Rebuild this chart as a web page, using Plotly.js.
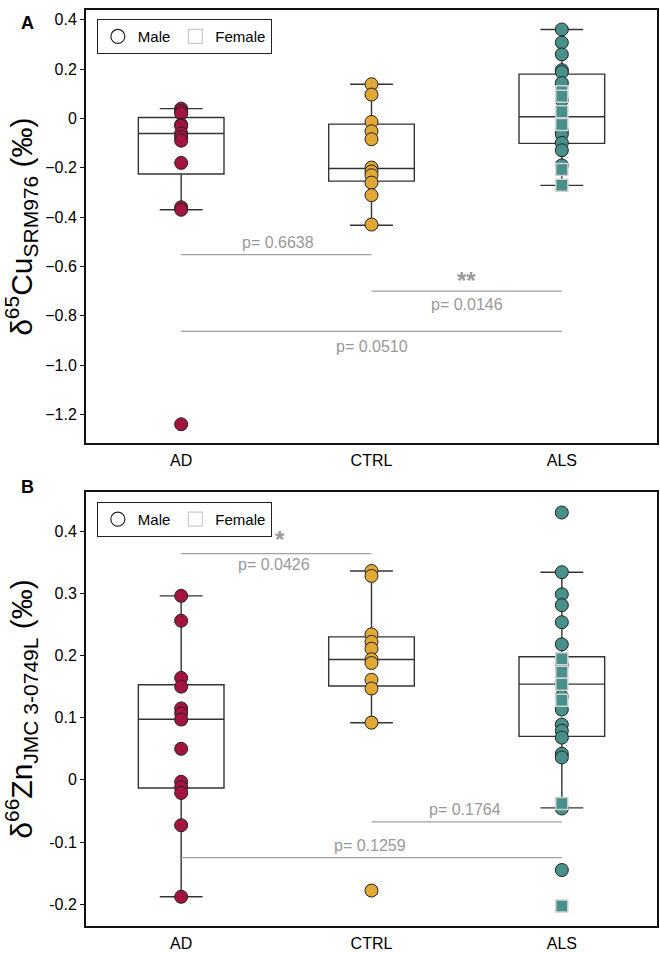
<!DOCTYPE html>
<html><head><meta charset="utf-8">
<script src="https://cdn.plot.ly/plotly-3.0.1.min.js"></script>
<style>html,body{margin:0;padding:0;background:#fff}#chart{width:660px;height:953px}</style>
</head><body><div id="chart"></div>
<script>
const categories = ["AD", "CTRL", "ALS"];

// Panel A: delta65Cu (permil)
const cuAD = [0.04, 0.03, 0.02, -0.025, -0.03, -0.06, -0.075, -0.09, -0.18, -0.36, -0.37, -1.24];
const cuCTRL = [0.139, 0.097, -0.014, -0.052, -0.084, -0.199, -0.215, -0.23, -0.26, -0.311, -0.43];
const cuALSMale = [0.361, 0.308, 0.26, 0.196, 0.188, 0.144, 0.075, -0.05, -0.064, -0.099, -0.129, -0.19];
const cuALSFemale = [0.108, 0.09, 0.027, -0.024, -0.207, -0.271];
const cuQ1 = [-0.225, -0.254, -0.101];
const cuMedian = [-0.061, -0.203, 0.007];
const cuQ3 = [0.004, -0.023, 0.18];
const cuLower = [-0.37, -0.433, -0.271];
const cuUpper = [0.04, 0.139, 0.361];
const cuTickVals = [0.4, 0.2, 0, -0.2, -0.4, -0.6, -0.8, -1.0, -1.2];
const cuTickText = ["0.4", "0.2", "0", "\u22120.2", "\u22120.4", "\u22120.6", "\u22120.8", "\u22121.0", "\u22121.2"];
const cuPairs = [["AD", "CTRL"], ["CTRL", "ALS"], ["AD", "ALS"]];
const cuLineY = [-0.552, -0.70, -0.863];
const cuLabels = ["p= 0.6638", "p= 0.0146", "p= 0.0510"];
const cuLabelX = [0.51, 1.5, 1.0];
const cuLabelY = [-0.502, -0.756, -0.924];
const cuStars = ["", "**", ""];
const cuStarX = [0, 1.5, 0];
const cuStarY = [0, -0.655, 0];

// Panel B: delta66Zn (permil)
const znAD = [0.296, 0.256, 0.164, 0.150, 0.115, 0.107, 0.097, 0.050, -0.003, -0.012, -0.021, -0.073, -0.188];
const znCTRL = [0.336, 0.328, 0.234, 0.222, 0.211, 0.194, 0.188, 0.161, 0.147, 0.092, -0.178];
const znALSMale = [0.43, 0.334, 0.2985, 0.281, 0.2535, 0.218, 0.185, 0.134, 0.113, 0.089, 0.079, 0.068, 0.042, 0.036, -0.046, -0.145];
const znALSFemale = [0.195, 0.173, 0.154, 0.128, -0.038, -0.203];
const znQ1 = [-0.013, 0.151, 0.070];
const znMedian = [0.0976, 0.1935, 0.154];
const znQ3 = [0.153, 0.23, 0.198];
const znLower = [-0.188, 0.092, -0.045];
const znUpper = [0.296, 0.336, 0.334];
const znTickVals = [0.4, 0.3, 0.2, 0.1, 0, -0.1, -0.2];
const znTickText = ["0.4", "0.3", "0.2", "0.1", "0", "-0.1", "-0.2"];
const znPairs = [["AD", "CTRL"], ["CTRL", "ALS"], ["AD", "ALS"]];
const znLineY = [0.364, -0.0675, -0.125];
const znLabels = ["p= 0.0426", "p= 0.1764", "p= 0.1259"];
const znLabelX = [0.49, 1.49, 0.99];
const znLabelY = [0.347, -0.0476, -0.105];
const znStars = ["*", "", ""];
const znStarX = [0.52, 0, 0];
const znStarY = [0.386, 0, 0];

const colAD = "#A3143F", colCTRL = "#E2A834", colALS = "#48908A";
const FONT = "Liberation Sans, Arial, Helvetica, sans-serif";
const traces = [];
const annotations = [];

function panel(xa, ya, legendId, q1, med, q3, lo, hi, ad, ctrl, alsM, alsF, pairs, lineY, labels, labelX, labelY, stars, starX, starY) {
  traces.push({
    type: "box", x: categories, q1: q1, median: med, q3: q3, lowerfence: lo, upperfence: hi,
    xaxis: xa, yaxis: ya, width: 0.45, whiskerwidth: 0.5, boxpoints: false,
    fillcolor: "rgba(255,255,255,0)", line: {color: "#333", width: 1.4}, showlegend: false, hoverinfo: "skip"
  });
  const mk = (c) => ({size: 13, color: c, line: {color: "#222", width: 1}});
  traces.push({type: "scatter", mode: "markers", x: ad.map(() => "AD"), y: ad, xaxis: xa, yaxis: ya, marker: mk(colAD), showlegend: false});
  traces.push({type: "scatter", mode: "markers", x: ctrl.map(() => "CTRL"), y: ctrl, xaxis: xa, yaxis: ya, marker: mk(colCTRL), showlegend: false});
  traces.push({type: "scatter", mode: "markers", x: alsM.map(() => "ALS"), y: alsM, xaxis: xa, yaxis: ya, marker: mk(colALS), showlegend: false});
  traces.push({type: "scatter", mode: "markers", x: alsF.map(() => "ALS"), y: alsF, xaxis: xa, yaxis: ya,
    marker: {symbol: "square", size: 12, color: colALS, line: {color: "#d0d0d0", width: 1.5}}, showlegend: false});
  pairs.forEach((p, i) => {
    traces.push({type: "scatter", mode: "lines", x: p, y: [lineY[i], lineY[i]], xaxis: xa, yaxis: ya,
      line: {color: "#a0a0a0", width: 1.3}, showlegend: false, hoverinfo: "skip"});
    annotations.push({xref: xa, yref: ya, x: labelX[i], y: labelY[i], text: labels[i], showarrow: false,
      font: {family: FONT, size: 16, color: "#999"}});
    if (stars[i]) {
      annotations.push({xref: xa, yref: ya, x: starX[i], y: starY[i], text: "<b>" + stars[i] + "</b>", showarrow: false,
        font: {family: FONT, size: 24, color: "#999"}});
    }
  });
  traces.push({type: "scatter", mode: "markers", x: [null], y: [null], xaxis: xa, yaxis: ya, name: "Male", legend: legendId,
    marker: {symbol: "circle", size: 14, color: "#fff", line: {color: "#222", width: 1.2}}});
  traces.push({type: "scatter", mode: "markers", x: [null], y: [null], xaxis: xa, yaxis: ya, name: "Female", legend: legendId,
    marker: {symbol: "square", size: 14, color: "#fff", line: {color: "#ccc", width: 1.2}}});
}

panel("x", "y", "legend", cuQ1, cuMedian, cuQ3, cuLower, cuUpper, cuAD, cuCTRL, cuALSMale, cuALSFemale,
  cuPairs, cuLineY, cuLabels, cuLabelX, cuLabelY, cuStars, cuStarX, cuStarY);
panel("x2", "y2", "legend2", znQ1, znMedian, znQ3, znLower, znUpper, znAD, znCTRL, znALSMale, znALSFemale,
  znPairs, znLineY, znLabels, znLabelX, znLabelY, znStars, znStarX, znStarY);

annotations.push({xref: "paper", yref: "paper", x: -0.117, y: 0.999, text: "<b>A</b>", showarrow: false, font: {family: FONT, size: 18, color: "#000"}});
annotations.push({xref: "paper", yref: "paper", x: -0.117, y: 0.479, text: "<b>B</b>", showarrow: false, font: {family: FONT, size: 18, color: "#000"}});

const xaxisBase = {type: "category", categoryorder: "array", categoryarray: categories, range: [-0.5, 2.5],
  showline: true, mirror: true, linecolor: "#111", linewidth: 2, ticks: "outside", ticklen: 2, tickcolor: "rgba(0,0,0,0)",
  showgrid: false, zeroline: false, tickfont: {family: FONT, size: 16, color: "#000"}};
const yaxisBase = {showline: true, mirror: true, linecolor: "#111", linewidth: 2, ticks: "outside", ticklen: 4, tickwidth: 1,
  tickcolor: "#111", showgrid: false, zeroline: false, tickfont: {family: FONT, size: 16, color: "#000"}};

const legendBase = {xanchor: "left", yanchor: "top", orientation: "h", bordercolor: "#222", borderwidth: 1,
  bgcolor: "rgba(255,255,255,0)", font: {family: FONT, size: 15, color: "#000"}, itemwidth: 30, tracegroupgap: 0};

const layout = {
  width: 660, height: 953, margin: {l: 86, r: 3, t: 10, b: 27},
  paper_bgcolor: "#fff", plot_bgcolor: "#fff", font: {family: FONT},
  xaxis: Object.assign({}, xaxisBase, {anchor: "y", domain: [0, 1]}),
  xaxis2: Object.assign({}, xaxisBase, {anchor: "y2", domain: [0, 1]}),
  yaxis: Object.assign({}, yaxisBase, {anchor: "x", domain: [0.527, 1], range: [-1.317, 0.44], tickvals: cuTickVals, ticktext: cuTickText,
    title: {text: "\u03b4<sup>65</sup>Cu<sub>SRM976</sub> (\u2030)", font: {family: FONT, size: 30, color: "#000"}, standoff: 6}}),
  yaxis2: Object.assign({}, yaxisBase, {anchor: "x2", domain: [0, 0.4738], range: [-0.235, 0.463], tickvals: znTickVals, ticktext: znTickText,
    title: {text: "\u03b4<sup>66</sup>Zn<sub>JMC 3-0749L</sub> (\u2030)", font: {family: FONT, size: 30, color: "#000"}, standoff: 8}}),
  legend: Object.assign({}, legendBase, {x: 0.019, y: 0.990}),
  legend2: Object.assign({}, legendBase, {x: 0.019, y: 0.463}),
  showlegend: true,
  annotations: annotations
};

Plotly.newPlot("chart", traces, layout, {staticPlot: true, displayModeBar: false});
</script></body></html>
